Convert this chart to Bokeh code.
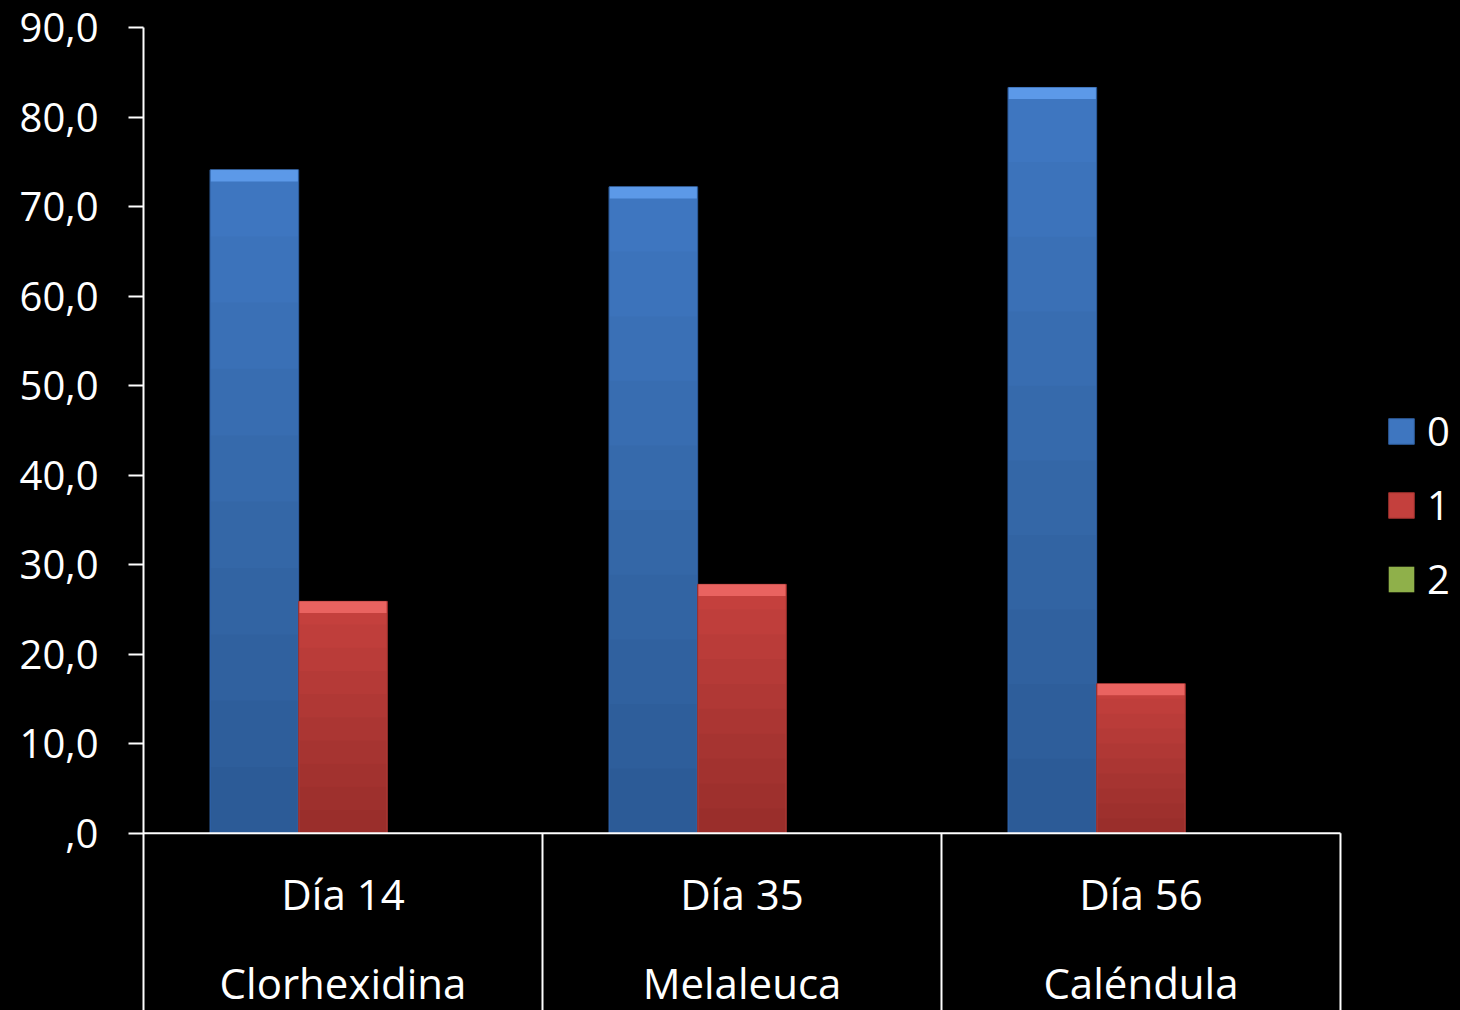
from bokeh.plotting import figure
from bokeh.models import Range1d, FixedTicker, Legend, LegendItem
from bokeh.core.properties import value
from bokeh.embed import file_html
from bokeh.resources import INLINE

# Data
days = ["Día 14", "Día 35", "Día 56"]
treatments = ["Clorhexidina", "Melaleuca", "Caléndula"]
series_names = ["0", "1", "2"]
score_0 = [74.1, 72.2, 83.3]
score_1 = [25.9, 27.8, 16.7]
score_2 = [0.0, 0.0, 0.0]
y_ticks = [0, 10, 20, 30, 40, 50, 60, 70, 80, 90]
y_tick_labels = [",0", "10,0", "20,0", "30,0", "40,0", "50,0", "60,0", "70,0", "80,0", "90,0"]

FONT = "Open Sans"
WHITE = "#FFFFFF"

bar_w = 1 / 4.5  # three bars per category, gap width 150%
offsets = [-bar_w, 0.0, bar_w]
styles = [
    dict(fill="#3E76C0", edge="#2E5C9A", light="#62A0EE"),
    dict(fill="#C4403D", edge="#9A302D", light="#F06A66"),
    dict(fill="#8FB04A", edge="#6F8C34", light="#B8D870"),
]

centers = [i + 0.5 for i in range(len(days))]
y_min = -19.8

p = figure(
    width=1460, height=1010,
    x_range=Range1d(0, 3.3008), y_range=Range1d(y_min, 90),
    x_axis_location=None, y_axis_location="left",
    output_backend="svg", toolbar_location=None,
    background_fill_alpha=0, border_fill_color="black",
    outline_line_color=None,
    min_border_left=143, min_border_right=0, min_border_top=27, min_border_bottom=0,
)
p.grid.visible = False

# Y axis
yax = p.yaxis[0]
yax.ticker = FixedTicker(ticks=y_ticks)
yax.major_label_overrides = {t: lab for t, lab in zip(y_ticks, y_tick_labels)}
yax.axis_line_color = WHITE
yax.axis_line_width = 2
yax.major_tick_line_color = WHITE
yax.major_tick_line_width = 2
yax.major_tick_out = 15
yax.major_tick_in = 0
yax.minor_tick_line_color = None
yax.major_label_standoff = 30
yax.major_label_text_color = WHITE
yax.major_label_text_font = FONT
yax.major_label_text_font_size = "40px"

# Bars
renderers = []
for vals, off, st in zip([score_0, score_1, score_2], offsets, styles):
    xs = [c + off for c in centers]
    r = p.vbar(x=xs, top=vals, bottom=0, width=bar_w,
               fill_color=st["fill"], line_color=st["edge"], line_width=1,
               line_alpha=[1.0 if v > 0 else 0.0 for v in vals])
    renderers.append(r)
    # vertical shading: darker toward the base
    for k in range(1, 10):
        tops = [v * k / 10 for v in vals]
        p.vbar(x=xs, top=tops, bottom=0, width=bar_w - 0.004,
               fill_color="black", fill_alpha=0.025, line_color=None)
    # bevelled highlight along the top edge
    hl_bottom = [max(v - 1.3, 0) for v in vals]
    p.vbar(x=xs, top=vals, bottom=hl_bottom, width=bar_w - 0.004,
           fill_color=st["light"], fill_alpha=[0.85 if v > 0 else 0.0 for v in vals],
           line_color=None)

# Category axis: baseline and dividers
p.segment(x0=[0], y0=[0], x1=[len(days)], y1=[0], line_color=WHITE, line_width=2)
bounds = list(range(1, len(days) + 1))
p.segment(x0=bounds, y0=[0] * len(bounds), x1=bounds, y1=[y_min] * len(bounds),
          line_color=WHITE, line_width=2)

p.text(x=centers, y=[0] * 3, text=days, y_offset=60,
       text_align="center", text_baseline="alphabetic",
       text_color=WHITE, text_font=value(FONT), text_font_size="42px")
p.text(x=centers, y=[0] * 3, text=treatments, y_offset=149,
       text_align="center", text_baseline="alphabetic",
       text_color=WHITE, text_font=value(FONT), text_font_size="42px")

# Legend
legend = Legend(
    items=[LegendItem(label=n, renderers=[r]) for n, r in zip(series_names, renderers)],
    location=(1242, 404),
    orientation="vertical",
    background_fill_alpha=0, border_line_color=None,
    glyph_width=32, glyph_height=32, label_height=27,
    label_standoff=10, spacing=19, padding=0, margin=0,
    label_text_color=WHITE, label_text_font=FONT, label_text_font_size="40px",
)
p.add_layout(legend)

html = file_html(p, INLINE)
html = html.replace("<head>", "<head><style>html, body { background: #000; }</style>", 1)
open("out.html", "w").write(html)
